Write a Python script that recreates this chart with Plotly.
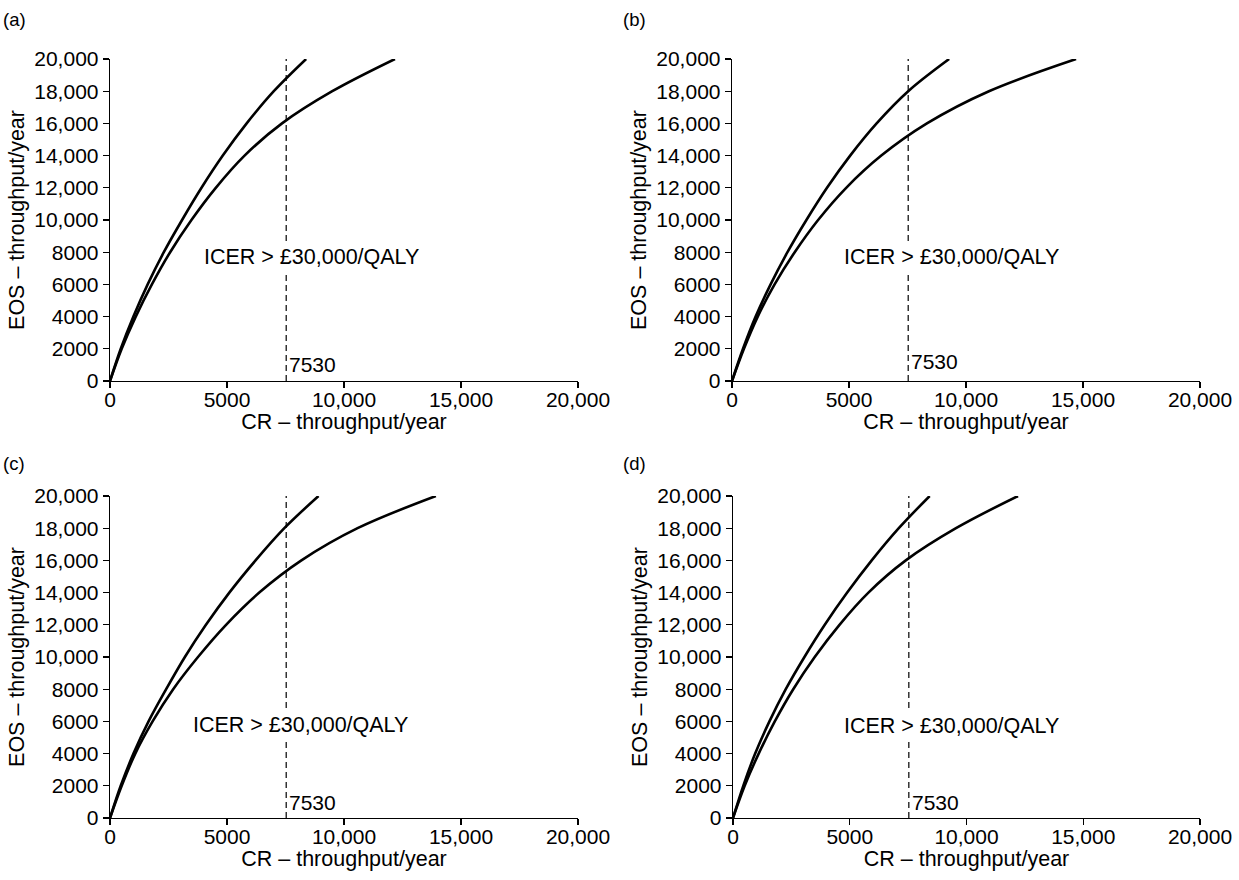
import plotly.graph_objects as go

# ---------------- data ----------------
eos = [0, 2000, 4000, 6000, 8000, 10000, 12000, 14000, 16000, 18000, 20000]

a_cr_upper = [0, 460, 1000, 1610, 2300, 3080, 3910, 4820, 5840, 7000, 8381]
a_cr_lower = [0, 500, 1100, 1790, 2570, 3480, 4520, 5750, 7350, 9500, 12178]

b_cr_upper = [0, 470, 1010, 1650, 2370, 3180, 4060, 5050, 6180, 7530, 9280]
b_cr_lower = [0, 510, 1100, 1820, 2680, 3680, 4880, 6380, 8330, 10980, 14704]

c_cr_upper = [0, 458, 1003, 1648, 2400, 3200, 4100, 5100, 6220, 7450, 8911]
c_cr_lower = [0, 500, 1080, 1820, 2700, 3760, 4960, 6380, 8180, 10580, 13926]

d_cr_upper = [0, 440, 950, 1560, 2260, 3060, 3930, 4890, 5940, 7100, 8424]
d_cr_lower = [0, 500, 1100, 1790, 2580, 3500, 4560, 5800, 7400, 9550, 12206]

threshold = 7530
panel_labels = ["(a)", "(b)", "(c)", "(d)"]
icer_text = "ICER > £30,000/QALY"
icer_pos_x = [8590, 9400, 8120, 9340]
icer_pos_y = [7680, 7720, 5770, 5745]
thr_label_y = [1035, 1200, 955, 950]

x_tickvals = [0, 5000, 10000, 15000, 20000]
x_ticktext = ["0", "5000", "10,000", "15,000", "20,000"]
y_tickvals = [0, 2000, 4000, 6000, 8000, 10000, 12000, 14000, 16000, 18000, 20000]
y_ticktext = ["0", "2000", "4000", "6000", "8000", "10,000", "12,000",
              "14,000", "16,000", "18,000", "20,000"]

x_title = "CR – throughput/year"
y_title = "EOS – throughput/year"

# ---------------- layout geometry ----------------
W, H = 1239, 880
FONT = "Liberation Sans, Arial, Helvetica, sans-serif"

panels = [
    dict(upper=a_cr_upper, lower=a_cr_lower, x0=110, x1=578, ytop=59, ybot=381),
    dict(upper=b_cr_upper, lower=b_cr_lower, x0=732, x1=1200, ytop=59, ybot=381),
    dict(upper=c_cr_upper, lower=c_cr_lower, x0=110, x1=578, ytop=496, ybot=818),
    dict(upper=d_cr_upper, lower=d_cr_lower, x0=733, x1=1200, ytop=496, ybot=818),
]
label_pos = [(1, 20), (621, 20), (1, 463), (621, 463)]

fig = go.Figure()
annotations = []
layout_axes = {}

for i, p in enumerate(panels):
    n = "" if i == 0 else str(i + 1)
    xa, ya = "x" + n, "y" + n
    line_style = dict(color="black", width=2.6)
    fig.add_trace(go.Scatter(x=p["upper"], y=eos, mode="lines", line=dict(shape="spline", **line_style),
                             xaxis=xa, yaxis=ya, showlegend=False, hoverinfo="skip"))
    fig.add_trace(go.Scatter(x=p["lower"], y=eos, mode="lines", line=dict(shape="spline", **line_style),
                             xaxis=xa, yaxis=ya, showlegend=False, hoverinfo="skip"))
    fig.add_trace(go.Scatter(x=[threshold, threshold], y=[0, 20000], mode="lines",
                             line=dict(color="black", width=1.2, dash="6px,4px"),
                             xaxis=xa, yaxis=ya, showlegend=False, hoverinfo="skip"))

    common = dict(showline=True, linecolor="black", linewidth=1.3, ticks="outside",
                  ticklen=6, tickwidth=1.3, tickcolor="black", showgrid=False, zeroline=False,
                  tickfont=dict(family=FONT, size=21, color="black"),
                  automargin=False, fixedrange=True)
    layout_axes["xaxis" + n] = dict(
        domain=[p["x0"] / W, p["x1"] / W], range=[0, 20000], anchor=ya,
        tickmode="array", tickvals=x_tickvals, ticktext=x_ticktext, ticklabelstandoff=-7,
        title=dict(text=x_title, font=dict(family=FONT, size=21.5, color="black"), standoff=2),
        **common)
    layout_axes["yaxis" + n] = dict(
        domain=[1 - p["ybot"] / H, 1 - p["ytop"] / H], range=[0, 20000], anchor=xa,
        tickmode="array", tickvals=y_tickvals, ticktext=y_ticktext,
        title=dict(text=y_title, font=dict(family=FONT, size=21.5, color="black"), standoff=3),
        **common)

    annotations.append(dict(x=icer_pos_x[i], y=icer_pos_y[i], xref=xa, yref=ya, text=icer_text,
                            showarrow=False, xanchor="center", yanchor="middle",
                            bgcolor="white", borderpad=3,
                            font=dict(family=FONT, size=21.5, color="black")))
    annotations.append(dict(x=threshold, y=thr_label_y[i], xref=xa, yref=ya, text=str(threshold),
                            showarrow=False, xanchor="left", yanchor="middle", xshift=1,
                            font=dict(family=FONT, size=21, color="black")))
    lx, ly = label_pos[i]
    annotations.append(dict(x=lx / W, y=1 - ly / H, xref="paper", yref="paper", text=panel_labels[i],
                            showarrow=False, xanchor="left", yanchor="middle",
                            font=dict(family=FONT, size=18.5, color="black")))

fig.update_layout(
    width=W, height=H,
    margin=dict(l=0, r=0, t=0, b=0),
    paper_bgcolor="white", plot_bgcolor="white",
    annotations=annotations,
    **layout_axes,
)

# remove the browser's default 8px page margin so the figure sits at the window's corner
fig.write_html("out.html", config={"displayModeBar": False, "staticPlot": True},
               post_script="document.body.style.margin='0px';document.body.style.overflow='hidden';")
